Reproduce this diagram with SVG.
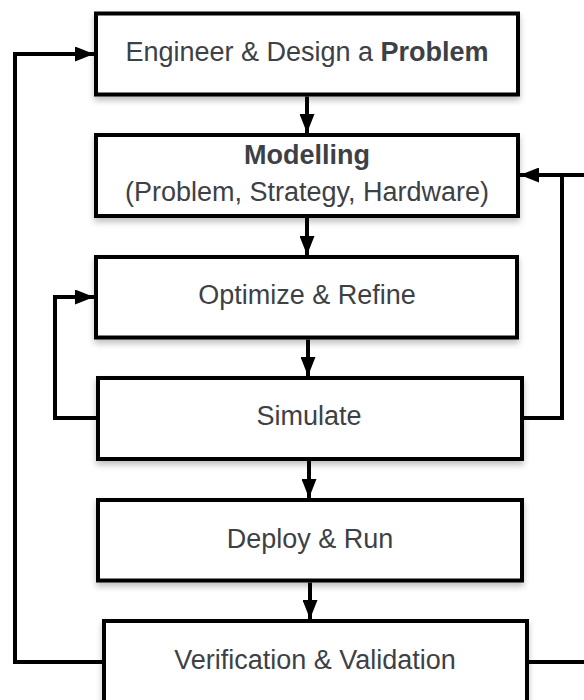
<svg xmlns="http://www.w3.org/2000/svg" width="584" height="700" viewBox="0 0 584 700">
<defs>
<filter id="sh" x="-10%" y="-20%" width="120%" height="150%">
<feGaussianBlur in="SourceAlpha" stdDeviation="3"/>
<feOffset dx="0" dy="4" result="b"/>
<feComponentTransfer><feFuncA type="linear" slope="0.25"/></feComponentTransfer>
<feMerge><feMergeNode/><feMergeNode in="SourceGraphic"/></feMerge>
</filter>
<marker id="ah" viewBox="0 0 19 15" refX="19" refY="7.5" markerWidth="19" markerHeight="15" markerUnits="userSpaceOnUse" orient="auto">
<path d="M0,0 L19,7.5 L0,15 Z" fill="#000"/>
</marker>
</defs>
<style>
.box{fill:#fff;stroke:#000;stroke-width:4}
.t{font-family:"Liberation Sans",Arial,sans-serif;font-size:27px;fill:#3d4146;text-anchor:middle}
.b{font-weight:bold}
.c{fill:none;stroke:#000;stroke-width:4}
</style>
<rect width="584" height="700" fill="#fff"/>
<g id="connectors">
<path class="c" d="M307,96.5 L307,133" marker-end="url(#ah)"/>
<path class="c" d="M307,218 L307,255" marker-end="url(#ah)"/>
<path class="c" d="M308,339.5 L308,376" marker-end="url(#ah)"/>
<path class="c" d="M309,461 L309,498" marker-end="url(#ah)"/>
<path class="c" d="M310,582.5 L310,619" marker-end="url(#ah)"/>
<path class="c" d="M102,662 L15,662 L15,54 L94,54" marker-end="url(#ah)"/>
<path class="c" d="M96,418 L55,418 L55,297 L94,297" marker-end="url(#ah)"/>
<path class="c" d="M529,662 L600,662 L600,175 L520,175" marker-end="url(#ah)"/>
<path class="c" d="M524,418 L562,418 L562,175"/>
</g>
<g id="n1">
<rect class="box" x="96" y="13.5" width="422" height="81" filter="url(#sh)"/>
<text class="t" x="307" y="61">Engineer &amp; Design a <tspan class="b">Problem</tspan></text>
</g>
<g id="n2">
<rect class="box" x="96" y="135" width="422" height="81" filter="url(#sh)"/>
<text class="t b" x="307" y="164">Modelling</text>
<text class="t" x="307" y="201">(Problem, Strategy, Hardware)</text>
</g>
<g id="n3">
<rect class="box" x="96" y="257" width="421" height="80.5" filter="url(#sh)"/>
<text class="t" x="307" y="304">Optimize &amp; Refine</text>
</g>
<g id="n4">
<rect class="box" x="98" y="378" width="424" height="81" filter="url(#sh)"/>
<text class="t" x="309" y="425">Simulate</text>
</g>
<g id="n5">
<rect class="box" x="98" y="500" width="424" height="80.5" filter="url(#sh)"/>
<text class="t" x="310" y="548">Deploy &amp; Run</text>
</g>
<g id="n6">
<rect class="box" x="104" y="621" width="423" height="82" filter="url(#sh)"/>
<text class="t" x="315" y="669">Verification &amp; Validation</text>
</g>
</svg>
